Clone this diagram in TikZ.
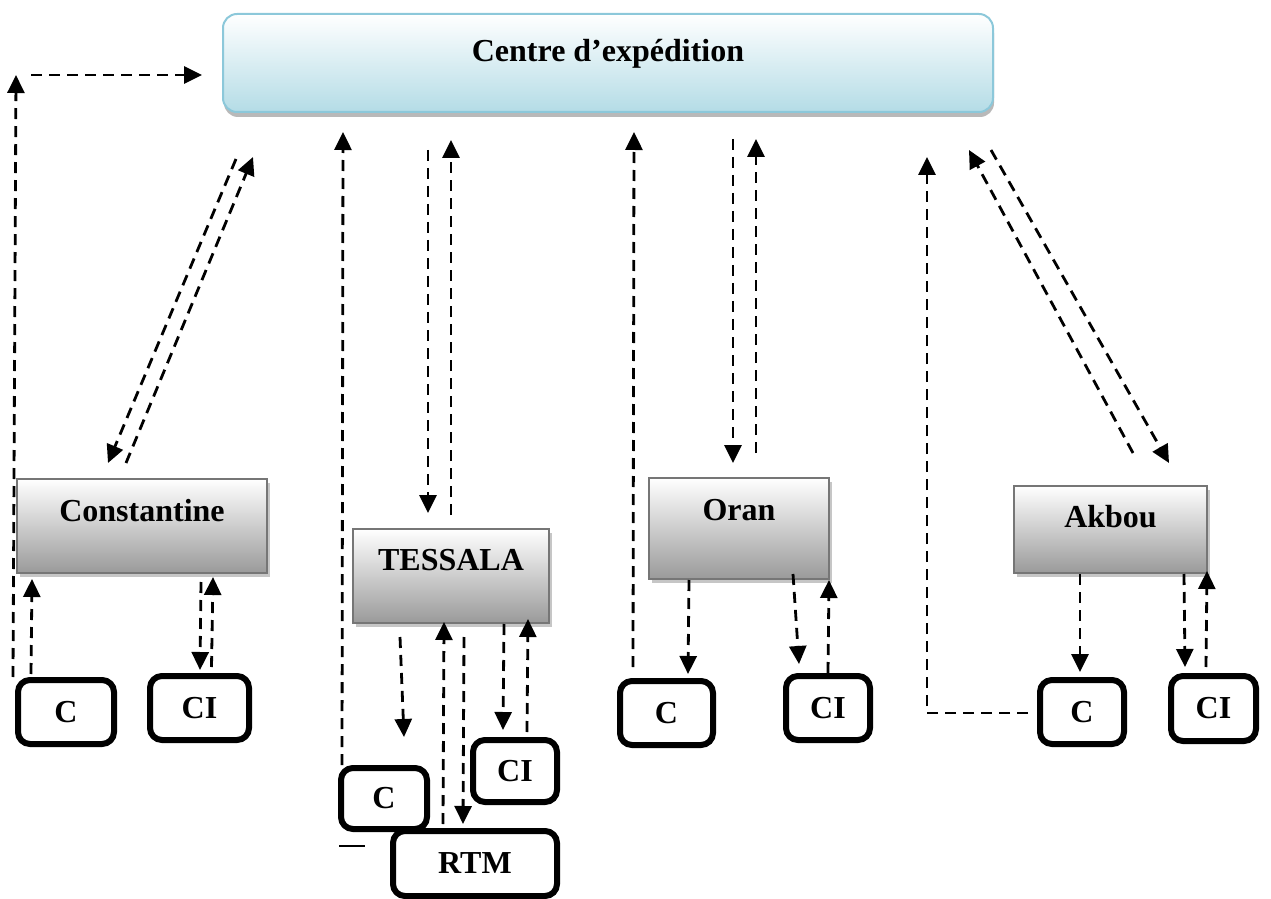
\documentclass[tikz,border=0pt]{standalone}
\usepackage{fontspec}
\setmainfont{Liberation Serif}
\usetikzlibrary{arrows.meta,shadows}
\definecolor{hubedge}{RGB}{140,200,218}
\definecolor{hubfill}{RGB}{180,220,230}
\definecolor{siteedge}{RGB}{118,118,118}
\definecolor{sitefill}{RGB}{154,154,154}
\begin{document}
\begin{tikzpicture}[x=0.5pt,y=-0.5pt,
  every node/.style={font=\fontsize{16}{19}\selectfont\bfseries},
  hub/.style={draw=hubedge, line width=1pt, rounded corners=7pt,
    top color=white, bottom color=hubfill, inner sep=0pt, anchor=north west,
    drop shadow={shadow xshift=0.5pt, shadow yshift=-2.5pt, fill=gray!55, opacity=1}},
  site/.style={draw=siteedge, line width=1pt, top color=white, bottom color=sitefill,
    inner sep=0pt, anchor=north west,
    drop shadow={shadow xshift=1.5pt, shadow yshift=-2pt, fill=gray!45, opacity=1}},
  unit/.style={draw=black, line width=3pt, rounded corners=6pt, fill=white, inner sep=0pt},
  flow/.style={dash pattern=on 5.5pt off 3.5pt, line width=1.4pt,
    -{Triangle[length=9pt,width=8.5pt]}},
  tick/.style={line width=0.8pt},
]
\useasboundingbox (0,0) rectangle (1271,899);

% dispatch centre
\node[hub, minimum width=385pt, minimum height=49pt, text height=24pt, text depth=25pt]
  (Centre) at (222,13) {Centre d’expédition};

% regional sites
\node[site, minimum width=125pt, minimum height=47pt, text height=21pt, text depth=26pt]
  (Const) at (16,478) {Constantine};
\node[site, minimum width=98pt, minimum height=47pt, text height=20.5pt, text depth=26.5pt]
  (Tes) at (352,528) {TESSALA};
\node[site, minimum width=90pt, minimum height=50.5pt, text height=21pt, text depth=29.5pt]
  (Oran) at (648,477) {Oran};
\node[site, minimum width=96.5pt, minimum height=43.5pt, text height=20.5pt, text depth=23pt]
  (Akbou) at (1013,485) {Akbou};

% client boxes
\node[unit, minimum width=48pt, minimum height=32pt] (C1) at (66,712) {C};
\node[unit, minimum width=49.5pt, minimum height=32pt] (CI1) at (199.5,708) {CI};
\node[unit, minimum width=43pt, minimum height=30.5pt] (C2) at (384,798.5) {C};
\node[unit, minimum width=42pt, minimum height=31pt] (CI2) at (515,771) {CI};
\node[unit, minimum width=82pt, minimum height=32.5pt] (RTM) at (475,863.5) {RTM};
\node[unit, minimum width=46.5pt, minimum height=32pt] (C3) at (666.5,713) {C};
\node[unit, minimum width=42pt, minimum height=32pt] (CI3) at (828,708) {CI};
\node[unit, minimum width=42pt, minimum height=32pt] (C4) at (1082,712) {C};
\node[unit, minimum width=42.5pt, minimum height=32.5pt] (CI4) at (1213.5,708.5) {CI};

% free ends of the outer loops
\coordinate (loopL) at (16,75);
\coordinate (loopLh) at (31,75);
\coordinate (akL) at (927,157);

% Constantine
\draw[flow] ([xshift=-1pt]C1.north west) -- (loopL);
\draw[flow, shorten >=10pt] (loopLh) -- (Centre.west |- loopLh);
\draw[flow] ([xshift=-186pt,yshift=-23pt]Centre.south) -- ([xshift=-17pt,yshift=7.5pt]Const.north);
\draw[flow] ([xshift=-8pt,yshift=7.5pt]Const.north) -- ([xshift=-177.5pt,yshift=-22pt]Centre.south);
\draw[flow] ([xshift=-17.5pt,yshift=1.5pt]C1.north) -- ([xshift=-55pt,yshift=-2.5pt]Const.south);
\draw[flow] ([xshift=29.5pt,yshift=-4pt]Const.south) -- ([xshift=0.25pt,yshift=1.5pt]CI1.north);
\draw[flow] ([xshift=6pt,yshift=3pt]CI1.north) -- ([xshift=35.5pt,yshift=-1.5pt]Const.south);

% TESSALA
\draw[flow] ([xshift=-21pt]C2.north) -- ([xshift=-132.5pt,yshift=-9.5pt]Centre.south);
\draw[tick] ([xshift=0.5pt,yshift=-7pt]C2.south west) -- ++(13pt,0);
\draw[flow] ([xshift=-90pt,yshift=-18.5pt]Centre.south) -- ([xshift=-11.5pt,yshift=7.5pt]Tes.north);
\draw[flow] ([yshift=6.5pt]Tes.north) -- ([xshift=-78.5pt,yshift=-13.5pt]Centre.south);
\draw[flow] ([xshift=-25.5pt,yshift=-6.5pt]Tes.south) -- ([xshift=10pt,yshift=14pt]C2.north);
\draw[flow] ([xshift=-16pt,yshift=2pt]RTM.north) -- ([xshift=-3.5pt,yshift=1pt]Tes.south);
\draw[flow] ([xshift=6.5pt,yshift=-6.5pt]Tes.south) -- ([xshift=-6pt,yshift=2pt]RTM.north);
\draw[flow] ([xshift=26.5pt]Tes.south) -- ([xshift=-6pt,yshift=3.5pt]CI2.north);
\draw[flow] ([xshift=6pt,yshift=2.5pt]CI2.north) -- ([xshift=38.5pt,yshift=2.5pt]Tes.south);

% Oran
\draw[flow] ([xshift=-16.75pt,yshift=5.5pt]C3.north) -- ([xshift=13pt,yshift=-9.5pt]Centre.south);
\draw[flow] ([xshift=62.5pt,yshift=-13pt]Centre.south) -- ([xshift=-3pt,yshift=7pt]Oran.north);
\draw[flow] ([xshift=8.5pt,yshift=12pt]Oran.north) -- ([xshift=74pt,yshift=-13pt]Centre.south);
\draw[flow] ([xshift=-25pt]Oran.south) -- ([xshift=10.75pt,yshift=2pt]C3.north);
\draw[flow] ([xshift=27pt,yshift=3pt]Oran.south) -- ([xshift=-14.5pt,yshift=4.5pt]CI3.north);
\draw[flow] (CI3.north) -- ([xshift=45pt]Oran.south);

% Akbou
\draw[flow] ([xshift=-4.5pt,yshift=-0.5pt]C4.west) -| (akL);
\draw[flow] ([xshift=11.25pt,yshift=16pt]Akbou.north) -- ([xshift=180.5pt,yshift=-18.5pt]Centre.south);
\draw[flow] ([xshift=191.5pt,yshift=-18.5pt]Centre.south) -- ([xshift=29.25pt,yshift=11pt]Akbou.north);
\draw[flow] ([xshift=-15.25pt]Akbou.south) -- ([xshift=-1pt,yshift=2.5pt]C4.north);
\draw[flow] ([xshift=36.75pt]Akbou.south) -- ([xshift=-14.25pt,yshift=3pt]CI4.north);
\draw[flow] ([xshift=-3.75pt,yshift=3pt]CI4.north) -- ([xshift=48.25pt,yshift=1.5pt]Akbou.south);
\end{tikzpicture}
\end{document}
